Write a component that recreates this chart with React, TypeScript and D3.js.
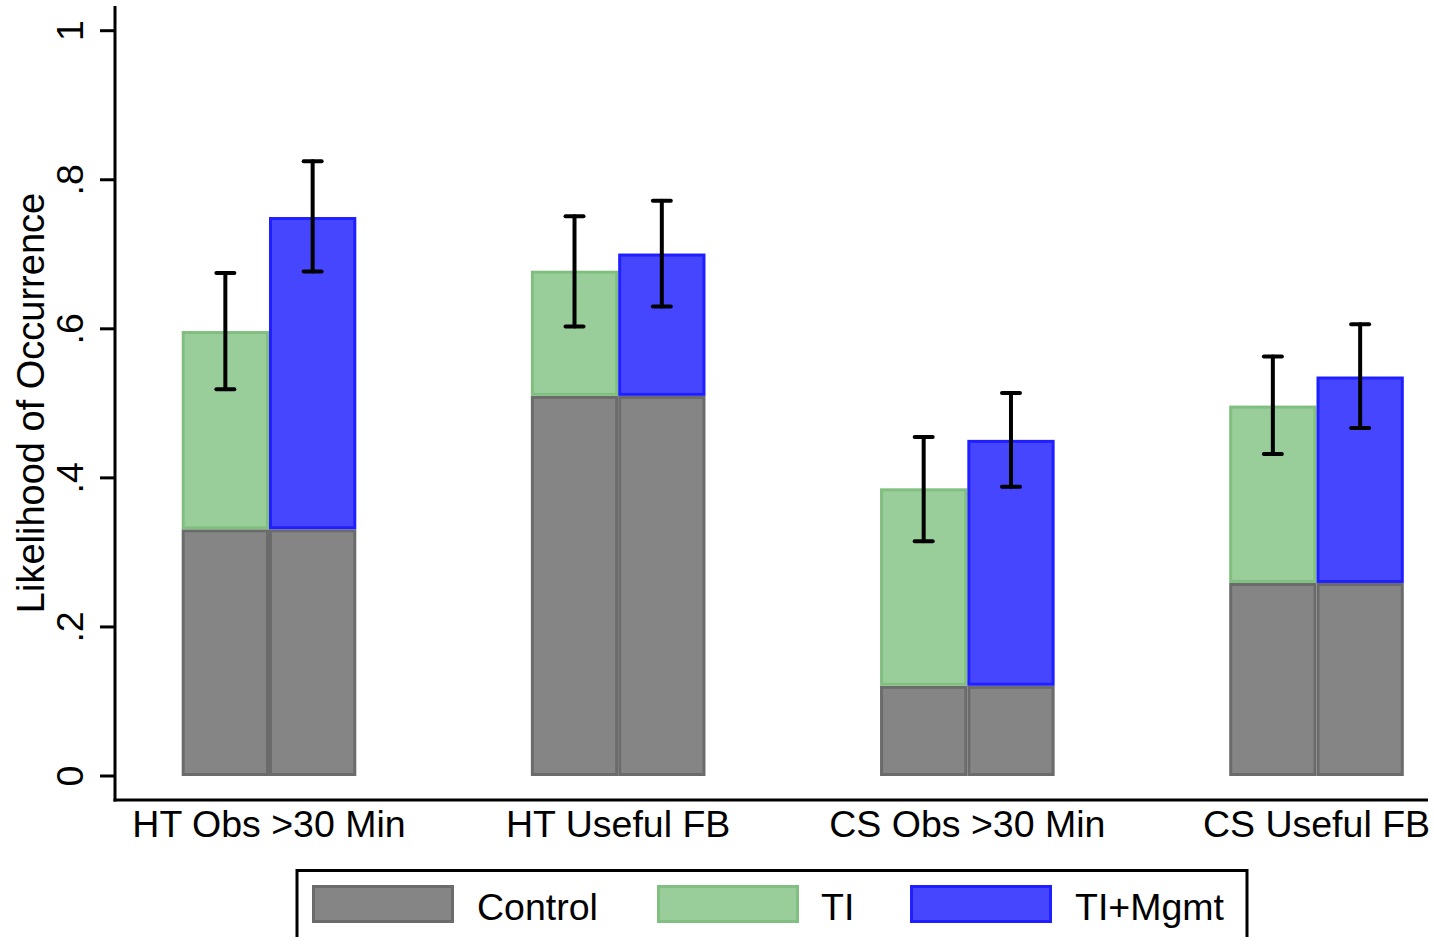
import React from "react";
import { scaleLinear, scalePoint, scaleBand } from "d3";

const categories = ["HT Obs >30 Min", "HT Useful FB", "CS Obs >30 Min", "CS Useful FB"];
const controlValues = [0.331, 0.51, 0.121, 0.259];
const tiValues = [0.597, 0.678, 0.386, 0.497];
const tiLow = [0.519, 0.603, 0.315, 0.432];
const tiHigh = [0.675, 0.751, 0.455, 0.563];
const mgmtValues = [0.75, 0.701, 0.451, 0.536];
const mgmtLow = [0.677, 0.63, 0.388, 0.467];
const mgmtHigh = [0.825, 0.772, 0.514, 0.606];
const yTicks = [0, 0.2, 0.4, 0.6, 0.8, 1];
const yTickLabels = ["0", ".2", ".4", ".6", ".8", "1"];
const seriesNames = ["Control", "TI", "TI+Mgmt"];

const FONT = "'Liberation Sans', Arial, sans-serif";
const colors = {
  control: { fill: "#858585", stroke: "#6b6b6b" },
  ti: { fill: "#99cd99", stroke: "#80bf80" },
  mgmt: { fill: "#4646ff", stroke: "#1f1fff" },
};

const App = () => {
  const y = scaleLinear().domain([0, 1]).range([776, 30.7]);
  const xGroup = scalePoint().domain(categories).range([269, 1316.5]);
  const xInner = scaleBand().domain(["ti", "mgmt"]).range([-87.3, 87.3]).padding(0);
  const bw = xInner.bandwidth();

  const treatments = [
    { key: "ti", vals: tiValues, lo: tiLow, hi: tiHigh },
    { key: "mgmt", vals: mgmtValues, lo: mgmtLow, hi: mgmtHigh },
  ];

  const legendItems = [
    { name: seriesNames[0], c: colors.control, x: 312, tx: 477 },
    { name: seriesNames[1], c: colors.ti, x: 657, tx: 821 },
    { name: seriesNames[2], c: colors.mgmt, x: 910, tx: 1075 },
  ];

  return (
    <svg
      width={1437}
      height={937}
      style={{ position: "absolute", left: 0, top: 0, background: "white" }}
      fontFamily={FONT}
    >
      {/* bars */}
      {categories.map((cat, i) => (
        <g key={cat} transform={`translate(${xGroup(cat)},0)`}>
          {treatments.map((t) => {
            const x0 = xInner(t.key);
            const c = (colors as any)[t.key];
            return (
              <g key={t.key}>
                <rect
                  x={x0 + 1.5}
                  y={y(controlValues[i]) + 1.5}
                  width={bw - 3}
                  height={y(0) - y(controlValues[i]) - 3}
                  fill={colors.control.fill}
                  stroke={colors.control.stroke}
                  strokeWidth={3}
                />
                <rect
                  x={x0 + 1.5}
                  y={y(t.vals[i]) + 1.5}
                  width={bw - 3}
                  height={y(controlValues[i]) - y(t.vals[i]) - 3}
                  fill={c.fill}
                  stroke={c.stroke}
                  strokeWidth={3}
                />
              </g>
            );
          })}
          {treatments.map((t) => {
            const cx = xInner(t.key) + bw / 2;
            return (
              <g key={"e" + t.key} stroke="black" strokeWidth={4} strokeLinecap="round">
                <line x1={cx} x2={cx} y1={y(t.lo[i])} y2={y(t.hi[i])} />
                <line x1={cx - 9} x2={cx + 9} y1={y(t.lo[i])} y2={y(t.lo[i])} />
                <line x1={cx - 9} x2={cx + 9} y1={y(t.hi[i])} y2={y(t.hi[i])} />
              </g>
            );
          })}
        </g>
      ))}

      {/* y axis */}
      <line x1={115} x2={115} y1={6} y2={801.5} stroke="black" strokeWidth={3} />
      {yTicks.map((t, i) => (
        <g key={t}>
          <line x1={100} x2={115} y1={y(t)} y2={y(t)} stroke="black" strokeWidth={3} />
          <text
            transform={`translate(83,${y(t)}) rotate(-90)`}
            textAnchor="middle"
            fontSize={37.5}
            fill="black"
          >
            {yTickLabels[i]}
          </text>
        </g>
      ))}
      <text
        transform="translate(44,403) rotate(-90)"
        textAnchor="middle"
        fontSize={38}
        fill="black"
      >
        Likelihood of Occurrence
      </text>

      {/* x axis */}
      <line x1={113.5} x2={1428} y1={800} y2={800} stroke="black" strokeWidth={3} />
      {categories.map((cat) => (
        <text key={cat} x={xGroup(cat)} y={837} textAnchor="middle" fontSize={37.5} fill="black">
          {cat}
        </text>
      ))}

      {/* legend */}
      <rect x={297} y={870.5} width={950} height={100} fill="white" stroke="black" strokeWidth={3} />
      {legendItems.map((it) => (
        <g key={it.name}>
          <rect
            x={it.x + 1.5}
            y={886.5}
            width={139}
            height={35}
            fill={it.c.fill}
            stroke={it.c.stroke}
            strokeWidth={3}
          />
          <text x={it.tx} y={920} fontSize={37.5} fill="black">
            {it.name}
          </text>
        </g>
      ))}
    </svg>
  );
};

export default App;
